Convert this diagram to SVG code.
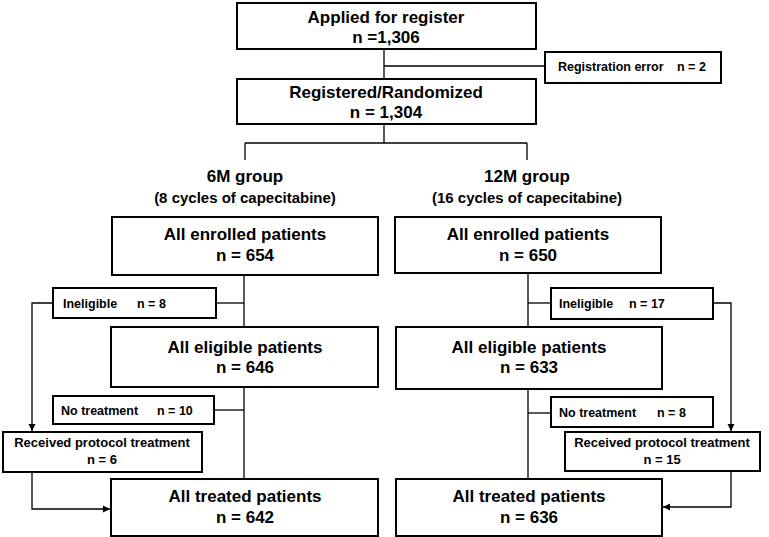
<svg xmlns="http://www.w3.org/2000/svg" width="769" height="537" viewBox="0 0 769 537">
<defs>
<marker id="arr" markerWidth="8" markerHeight="8" refX="7" refY="4" orient="auto" markerUnits="userSpaceOnUse">
<path d="M0,0.5 L7,4 L0,7.5 z" fill="#000"/>
</marker>
<style>
.box{fill:#fff;stroke:#000;stroke-width:2}
.ln{fill:none;stroke:#000;stroke-width:1.3}
text{font-family:"Liberation Sans",Arial,sans-serif;font-weight:bold;fill:#000}
.big{font-size:17px;text-anchor:middle}
.mid{font-size:15px;text-anchor:middle}
.sm{font-size:12.5px}
.smc{font-size:13px;text-anchor:middle}
</style>
</defs>
<rect width="769" height="537" fill="#fff"/>
<g id="connectors">
<path class="ln" d="M384,49 V79"/>
<path class="ln" d="M384,66 H545"/>
<path class="ln" d="M384,124 V143"/>
<path class="ln" d="M245,143 H527"/>
<path class="ln" d="M245,143 V160"/>
<path class="ln" d="M527,143 V160"/>
<path class="ln" d="M244,275 V327"/>
<path class="ln" d="M216,303 H244"/>
<path class="ln" d="M244,387 V479"/>
<path class="ln" d="M214,410 H244"/>
<path class="ln" d="M53,303 H32 V431" marker-end="url(#arr)"/>
<path class="ln" d="M32,472 V509 H110" marker-end="url(#arr)"/>
<path class="ln" d="M528,273 V327"/>
<path class="ln" d="M528,303 H551"/>
<path class="ln" d="M528,389 V479"/>
<path class="ln" d="M528,413 H551"/>
<path class="ln" d="M713,303 H731 V431" marker-end="url(#arr)"/>
<path class="ln" d="M731,471 V507 H663" marker-end="url(#arr)"/>
</g>
<g id="applied">
<rect class="box" x="237" y="3" width="299" height="46"/>
<text class="big" x="386" y="23">Applied for register</text>
<text class="big" x="386" y="43">n =1,306</text>
</g>
<g id="regerror">
<rect class="box" x="545" y="52" width="176" height="31"/>
<text class="sm" x="558" y="71">Registration error</text>
<text class="sm" x="677" y="71">n = 2</text>
</g>
<g id="registered">
<rect class="box" x="237" y="79" width="299" height="45"/>
<text class="big" x="386" y="98">Registered/Randomized</text>
<text class="big" x="386" y="118">n = 1,304</text>
</g>
<g id="group6">
<text class="big" x="245" y="182">6M group</text>
<text class="mid" x="245" y="203">(8 cycles of capecitabine)</text>
</g>
<g id="group12">
<text class="big" x="527" y="182">12M group</text>
<text class="mid" x="527" y="203">(16 cycles of capecitabine)</text>
</g>
<g id="enrolled6">
<rect class="box" x="112" y="217" width="266" height="58"/>
<text class="big" x="245" y="240">All enrolled patients</text>
<text class="big" x="245" y="261">n = 654</text>
</g>
<g id="enrolled12">
<rect class="box" x="395" y="217" width="266" height="56"/>
<text class="big" x="528" y="240">All enrolled patients</text>
<text class="big" x="528" y="261">n = 650</text>
</g>
<g id="inelig6">
<rect class="box" x="53" y="288" width="163" height="30"/>
<text class="sm" x="63" y="308">Ineligible</text>
<text class="sm" x="137" y="308">n = 8</text>
</g>
<g id="inelig12">
<rect class="box" x="551" y="288" width="162" height="31"/>
<text class="sm" x="559" y="308">Ineligible</text>
<text class="sm" x="629" y="308">n = 17</text>
</g>
<g id="eligible6">
<rect class="box" x="111" y="327" width="267" height="60"/>
<text class="big" x="245" y="353">All eligible patients</text>
<text class="big" x="245" y="373">n = 646</text>
</g>
<g id="eligible12">
<rect class="box" x="396" y="327" width="266" height="62"/>
<text class="big" x="529" y="353">All eligible patients</text>
<text class="big" x="529" y="373">n = 633</text>
</g>
<g id="notreat6">
<rect class="box" x="53" y="396" width="161" height="28"/>
<text class="sm" x="61" y="415">No treatment</text>
<text class="sm" x="157" y="415">n = 10</text>
</g>
<g id="notreat12">
<rect class="box" x="551" y="397" width="162" height="30"/>
<text class="sm" x="559" y="417">No treatment</text>
<text class="sm" x="657" y="417">n = 8</text>
</g>
<g id="received6">
<rect class="box" x="3" y="432" width="199" height="40"/>
<text class="smc" x="102" y="447">Received protocol treatment</text>
<text class="smc" x="102" y="464">n = 6</text>
</g>
<g id="received12">
<rect class="box" x="565" y="432" width="195" height="39"/>
<text class="smc" x="662" y="447">Received protocol treatment</text>
<text class="smc" x="662" y="464">n = 15</text>
</g>
<g id="treated6">
<rect class="box" x="111" y="479" width="267" height="57"/>
<text class="big" x="245" y="502">All treated patients</text>
<text class="big" x="245" y="523">n = 642</text>
</g>
<g id="treated12">
<rect class="box" x="396" y="479" width="266" height="57"/>
<text class="big" x="529" y="502">All treated patients</text>
<text class="big" x="529" y="523">n = 636</text>
</g>
</svg>
